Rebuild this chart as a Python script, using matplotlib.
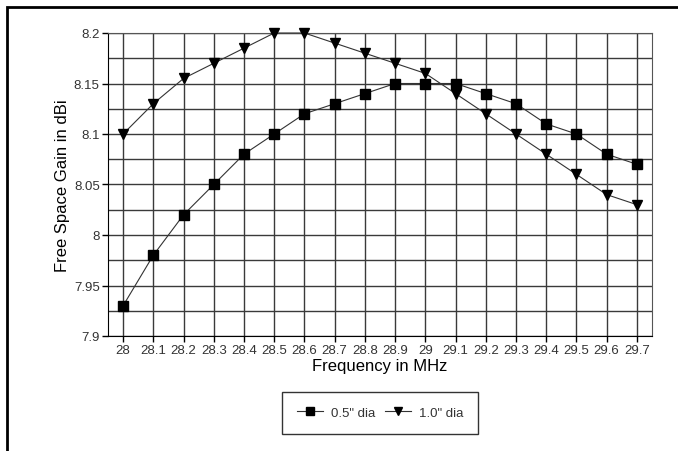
import numpy as np
import matplotlib
matplotlib.use('Agg')
import matplotlib.pyplot as plt
from matplotlib.patches import Rectangle

plt.rcParams['font.family'] = ['Liberation Sans', 'DejaVu Sans']

freq = ['28', '28.1', '28.2', '28.3', '28.4', '28.5', '28.6', '28.7', '28.8',
        '28.9', '29', '29.1', '29.2', '29.3', '29.4', '29.5', '29.6', '29.7']
gain_05 = [7.93, 7.98, 8.02, 8.05, 8.08, 8.10, 8.12, 8.13, 8.14,
           8.15, 8.15, 8.15, 8.14, 8.13, 8.11, 8.10, 8.08, 8.07]
gain_10 = [8.10, 8.13, 8.155, 8.17, 8.185, 8.20, 8.20, 8.19, 8.18,
           8.17, 8.16, 8.14, 8.12, 8.10, 8.08, 8.06, 8.04, 8.03]
y_ticks = [7.9, 7.95, 8.0, 8.05, 8.1, 8.15, 8.2]
y_labels = ['7.9', '7.95', '8', '8.05', '8.1', '8.15', '8.2']
y_minor = [7.925, 7.975, 8.025, 8.075, 8.125, 8.175]

W, H = 678, 452
fig = plt.figure(figsize=(W / 100, H / 100), dpi=100)
ax = fig.add_axes([108 / W, 1 - 337 / H, (652 - 108) / W, (337 - 34) / H])

x = np.arange(len(freq))
ax.plot(x, gain_05, color='#333333', lw=0.8, marker='s', ms=6.5,
        mfc='black', mec='black', label='0.5" dia', zorder=3, clip_on=False)
ax.plot(x, gain_10, color='#333333', lw=0.8, marker='v', ms=7.5,
        mfc='black', mec='black', label='1.0" dia', zorder=3, clip_on=False)

ax.set_xlim(-0.5, len(freq) - 0.5)
ax.set_ylim(7.9, 8.2)
ax.set_xticks(x)
ax.set_xticklabels(freq)
ax.set_yticks(y_ticks)
ax.set_yticklabels(y_labels)
ax.set_yticks(y_minor, minor=True)
ax.tick_params(axis='both', which='major', direction='out', length=4,
               width=1, labelsize=9.5, labelcolor='#333333', pad=2)
ax.tick_params(axis='y', which='minor', length=0)
ax.grid(True, which='both', axis='y', color='#3a3a3a', lw=1)
ax.grid(True, which='major', axis='x', color='#3a3a3a', lw=1)
ax.set_axisbelow(True)
for side in ['left', 'bottom']:
    ax.spines[side].set_color('black')
for side in ['top', 'right']:
    ax.spines[side].set_color('#555555')

ax.set_xlabel('Frequency in MHz', fontsize=12, labelpad=1)
ax.set_ylabel('Free Space Gain in dBi', fontsize=12, labelpad=3)

leg = ax.legend(loc='center', bbox_to_anchor=(0.5, -0.254), ncol=2,
                frameon=True, fancybox=False, fontsize=9.5,
                handlelength=2.0, columnspacing=0.7, handletextpad=0.6,
                borderpad=1.15, borderaxespad=0, markerscale=0.8)
leg.get_frame().set_edgecolor('black')
leg.get_frame().set_linewidth(1)
for t in leg.get_texts():
    t.set_color('#333333')

fig.patches.append(Rectangle((7 / W, -0.05), 1.1, 1 - 8 / H + 0.05,
                             transform=fig.transFigure, fill=False,
                             edgecolor='black', lw=2))

fig.savefig('out.png', dpi=100)
